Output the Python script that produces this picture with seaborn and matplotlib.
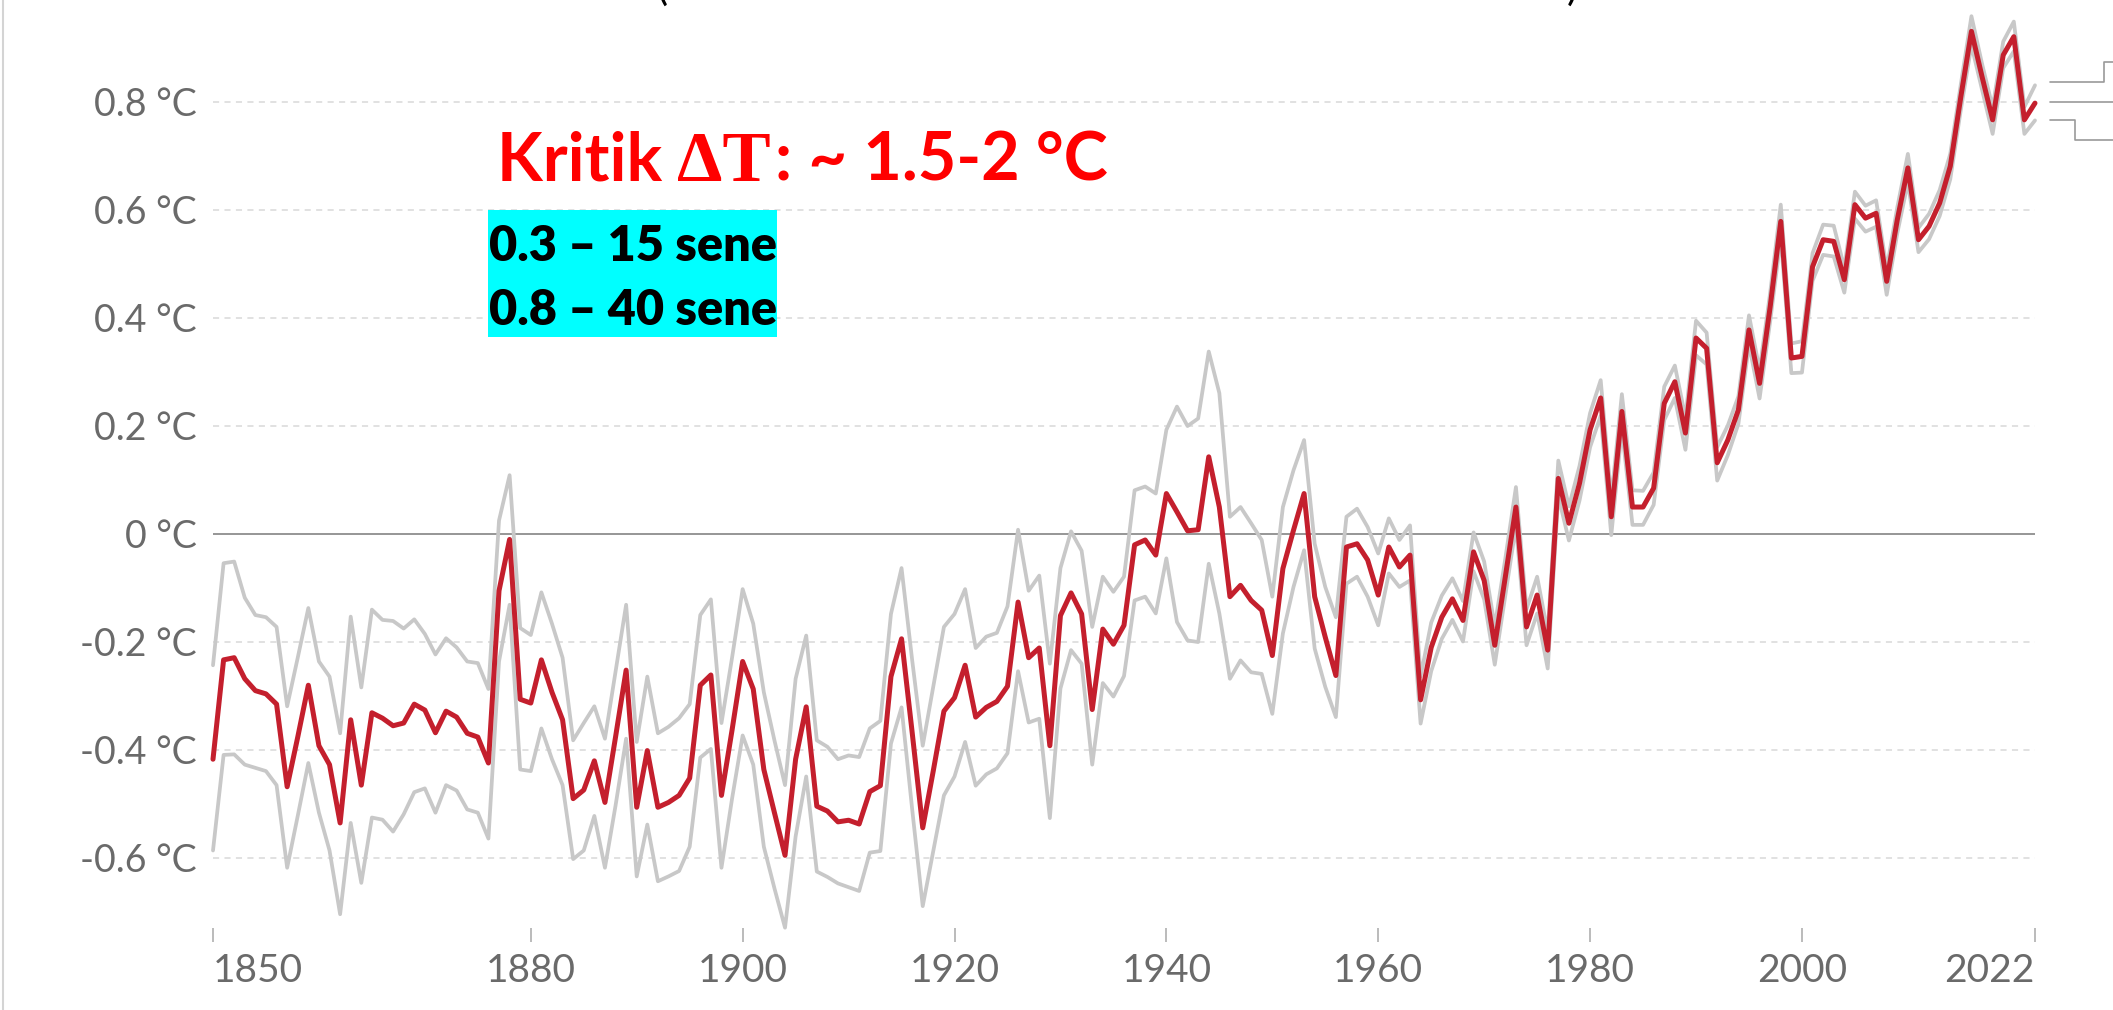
import numpy as np
import pandas as pd
import matplotlib
matplotlib.use("Agg")
import matplotlib.pyplot as plt
import seaborn as sns
from matplotlib.lines import Line2D
from matplotlib.patches import Rectangle

# ---------------- data ----------------
years = list(range(1850, 2023))

anomaly = [
    -0.418, -0.234, -0.230, -0.269, -0.291, -0.297, -0.316, -0.469, -0.377, -0.281,
    -0.393, -0.428, -0.536, -0.345, -0.466, -0.332, -0.342, -0.356, -0.351, -0.316,
    -0.327, -0.369, -0.329, -0.340, -0.370, -0.377, -0.425, -0.106, -0.011, -0.307,
    -0.314, -0.234, -0.294, -0.345, -0.491, -0.475, -0.421, -0.498, -0.377, -0.253,
    -0.507, -0.402, -0.507, -0.498, -0.485, -0.453, -0.281, -0.262, -0.485, -0.364,
    -0.237, -0.288, -0.437, -0.517, -0.596, -0.418, -0.321, -0.505, -0.514, -0.534,
    -0.531, -0.538, -0.478, -0.467, -0.265, -0.195, -0.368, -0.545, -0.439, -0.329,
    -0.304, -0.244, -0.340, -0.322, -0.311, -0.283, -0.127, -0.230, -0.212, -0.393,
    -0.152, -0.110, -0.149, -0.326, -0.177, -0.205, -0.170, -0.021, -0.012, -0.040,
    0.074, 0.040, 0.005, 0.007, 0.142, 0.049, -0.117, -0.096, -0.124, -0.142,
    -0.226, -0.065, 0.006, 0.074, -0.117, -0.192, -0.263, -0.025, -0.019, -0.049,
    -0.114, -0.025, -0.062, -0.040, -0.308, -0.211, -0.155, -0.121, -0.161, -0.034,
    -0.087, -0.207, -0.080, 0.049, -0.173, -0.114, -0.216, 0.102, 0.019, 0.093,
    0.192, 0.251, 0.031, 0.226, 0.049, 0.049, 0.084, 0.241, 0.281, 0.186,
    0.362, 0.343, 0.131, 0.173, 0.229, 0.377, 0.278, 0.420, 0.578, 0.325,
    0.328, 0.494, 0.544, 0.541, 0.470, 0.609, 0.584, 0.593, 0.467, 0.581,
    0.677, 0.544, 0.569, 0.612, 0.680, 0.809, 0.930, 0.846, 0.766, 0.886,
    0.920, 0.766, 0.797,
]

upper = [
    -0.244, -0.055, -0.052, -0.119, -0.151, -0.155, -0.173, -0.320, -0.230, -0.138,
    -0.237, -0.265, -0.370, -0.154, -0.285, -0.141, -0.160, -0.162, -0.176, -0.159,
    -0.186, -0.224, -0.194, -0.211, -0.237, -0.240, -0.288, 0.024, 0.108, -0.175,
    -0.188, -0.109, -0.167, -0.230, -0.383, -0.351, -0.320, -0.380, -0.256, -0.132,
    -0.386, -0.265, -0.370, -0.358, -0.342, -0.316, -0.151, -0.122, -0.351, -0.230,
    -0.103, -0.167, -0.294, -0.383, -0.466, -0.269, -0.189, -0.383, -0.395, -0.418,
    -0.411, -0.414, -0.361, -0.347, -0.149, -0.064, -0.234, -0.393, -0.283, -0.173,
    -0.149, -0.103, -0.212, -0.191, -0.184, -0.135, 0.007, -0.106, -0.078, -0.241,
    -0.064, 0.004, -0.032, -0.173, -0.080, -0.108, -0.080, 0.080, 0.087, 0.074,
    0.192, 0.235, 0.199, 0.213, 0.337, 0.260, 0.031, 0.049, 0.019, -0.012,
    -0.117, 0.049, 0.117, 0.173, -0.019, -0.099, -0.155, 0.031, 0.046, 0.012,
    -0.037, 0.028, -0.012, 0.015, -0.265, -0.165, -0.115, -0.083, -0.125, 0.002,
    -0.052, -0.172, -0.046, 0.086, -0.140, -0.080, -0.183, 0.135, 0.050, 0.125,
    0.223, 0.284, 0.064, 0.258, 0.080, 0.079, 0.113, 0.272, 0.311, 0.215,
    0.394, 0.372, 0.160, 0.200, 0.254, 0.404, 0.303, 0.446, 0.609, 0.352,
    0.356, 0.519, 0.572, 0.570, 0.492, 0.633, 0.607, 0.617, 0.490, 0.604,
    0.703, 0.566, 0.592, 0.636, 0.703, 0.832, 0.958, 0.870, 0.789, 0.911,
    0.948, 0.790, 0.830,
]

lower = [
    -0.587, -0.410, -0.409, -0.428, -0.434, -0.440, -0.466, -0.619, -0.523, -0.425,
    -0.517, -0.587, -0.705, -0.536, -0.647, -0.526, -0.530, -0.552, -0.520, -0.479,
    -0.472, -0.517, -0.466, -0.476, -0.511, -0.517, -0.565, -0.237, -0.132, -0.437,
    -0.440, -0.361, -0.418, -0.466, -0.603, -0.587, -0.523, -0.619, -0.504, -0.380,
    -0.635, -0.539, -0.644, -0.635, -0.625, -0.580, -0.415, -0.399, -0.619, -0.491,
    -0.374, -0.428, -0.580, -0.657, -0.730, -0.561, -0.450, -0.626, -0.636, -0.648,
    -0.655, -0.662, -0.591, -0.588, -0.389, -0.322, -0.510, -0.690, -0.588, -0.485,
    -0.450, -0.386, -0.467, -0.446, -0.435, -0.407, -0.255, -0.350, -0.343, -0.527,
    -0.287, -0.216, -0.241, -0.428, -0.277, -0.302, -0.264, -0.124, -0.117, -0.148,
    -0.046, -0.164, -0.198, -0.201, -0.056, -0.148, -0.269, -0.235, -0.257, -0.260,
    -0.334, -0.185, -0.099, -0.031, -0.213, -0.284, -0.340, -0.093, -0.080, -0.117,
    -0.170, -0.074, -0.099, -0.087, -0.352, -0.255, -0.195, -0.160, -0.200, -0.070,
    -0.122, -0.243, -0.115, 0.014, -0.207, -0.148, -0.250, 0.069, -0.013, 0.061,
    0.160, 0.218, -0.003, 0.194, 0.016, 0.016, 0.053, 0.210, 0.251, 0.155,
    0.330, 0.313, 0.098, 0.145, 0.203, 0.350, 0.250, 0.393, 0.548, 0.297,
    0.298, 0.468, 0.516, 0.513, 0.446, 0.583, 0.559, 0.568, 0.442, 0.556,
    0.650, 0.521, 0.545, 0.588, 0.656, 0.785, 0.904, 0.822, 0.740, 0.862,
    0.893, 0.740, 0.765,
]

x_ticks = [1850, 1880, 1900, 1920, 1940, 1960, 1980, 2000, 2022]
y_ticks = [-0.6, -0.4, -0.2, 0.0, 0.2, 0.4, 0.6, 0.8]
y_tick_labels = ["-0.6 °C", "-0.4 °C", "-0.2 °C", "0 °C", "0.2 °C", "0.4 °C", "0.6 °C", "0.8 °C"]

headline = ["Kritik ", "ΔT", ": ~ 1.5-2 °C"]
box_lines = ["0.3 – 15 sene", "0.8 – 40 sene"]

# ---------------- styling ----------------
sns.set_theme(style="white")
plt.rcParams["font.family"] = ["Lato", "DejaVu Sans"]

W, H = 2113, 1010
fig = plt.figure(figsize=(W / 100, H / 100), dpi=100)
fig.patch.set_facecolor("white")

# axes placed so that 1850 -> 213 px, 2022 -> 2035 px; 0 °C at 533.5 px, 540 px per 1 °C
ax_left, ax_right = 213, 2035
ax_bottom_px, ax_top_px = 928, 4.3
ax = fig.add_axes([ax_left / W, 1 - ax_bottom_px / H,
                   (ax_right - ax_left) / W, (ax_bottom_px - ax_top_px) / H])
ax.set_xlim(1850, 2022)
ax.set_ylim(-(ax_bottom_px - 533.5) / 540, (533.5 - ax_top_px) / 540)

df = pd.DataFrame({"year": years, "anomaly": anomaly, "upper": upper, "lower": lower})

# grid
for v in y_ticks:
    if v == 0:
        ax.axhline(v, color="#8e8e8e", lw=1.3, zorder=1)
    else:
        ax.axhline(v, color="#d9d9d9", lw=1.1, ls=(0, (4, 3.5)), zorder=1)

sns.lineplot(data=df, x="year", y="upper", ax=ax, color="#c8c8c8", lw=2.7, zorder=2, clip_on=False)
sns.lineplot(data=df, x="year", y="lower", ax=ax, color="#c8c8c8", lw=2.7, zorder=2, clip_on=False)
sns.lineplot(data=df, x="year", y="anomaly", ax=ax, color="#c41f2d", lw=3.6, zorder=3, clip_on=False)

for s in ax.spines.values():
    s.set_visible(False)
ax.set_xlabel("")
ax.set_ylabel("")

ax.set_xticks(x_ticks)
ax.set_xticklabels([str(t) for t in x_ticks])
ax.set_yticks(y_ticks)
ax.set_yticklabels(y_tick_labels)
ax.tick_params(axis="x", length=10, width=1.1, color="#a8a8a8", direction="out",
               pad=8, labelsize=28, labelcolor="#6a6a6a", bottom=True)
ax.tick_params(axis="y", length=0, pad=11.5, labelsize=27, labelcolor="#6a6a6a", left=True)
xl = ax.get_xticklabels()
xl[0].set_ha("left")
xl[-1].set_ha("right")

# end-label connector lines (labels themselves are off the visible canvas)
lead_x = [2023.4, 2025.8, 2028.5, 2030.0]
ends = [upper[-1], anomaly[-1], lower[-1]]
ax.add_line(Line2D([lead_x[0], lead_x[2], lead_x[2], lead_x[3]],
                   [ends[0] + 0.007, ends[0] + 0.007, ends[0] + 0.044, ends[0] + 0.044],
                   color="#9a9a9a", lw=1.2, clip_on=False))
ax.add_line(Line2D([lead_x[0], lead_x[3]], [ends[1] + 0.003, ends[1] + 0.003],
                   color="#9a9a9a", lw=1.2, clip_on=False))
ax.add_line(Line2D([lead_x[0], lead_x[1], lead_x[1], lead_x[3]],
                   [ends[2] + 0.001, ends[2] + 0.001, ends[2] - 0.036, ends[2] - 0.036],
                   color="#9a9a9a", lw=1.2, clip_on=False))

# left border of the screenshot
fig.add_artist(Line2D([3 / W, 3 / W], [0, 1], color="#d4d4d4", lw=1.5))

# cut-off title parentheses at the very top (the reference shows only their lower ends)
fig.text(656 / W, 1.0, "(", fontsize=30, color="black", va="baseline", ha="left")
fig.text(1567 / W, 1.0, ")", fontsize=30, color="black", va="baseline", ha="left")

# headline in red
red = "#ff0000"
fig.text(497 / W, 1 - 180.7 / H, headline[0], fontsize=48, fontweight="bold", color=red,
         va="baseline", ha="left", family=["Lato", "DejaVu Sans"])
fig.text(677 / W, 1 - 180.7 / H, headline[1], fontsize=52, fontweight="bold", color=red,
         va="baseline", ha="left", family=["Liberation Serif", "DejaVu Serif"])
fig.text(775 / W, 1 - 180.7 / H, headline[2], fontsize=48, fontweight="bold", color=red,
         va="baseline", ha="left", family=["Lato", "DejaVu Sans"])

# cyan box
fig.add_artist(Rectangle((488 / W, 1 - 337 / H), (777 - 488) / W, (337 - 210) / H,
                         transform=fig.transFigure, facecolor="#00ffff", edgecolor="none", zorder=5))
fig.text(489 / W, 1 - 261 / H, box_lines[0], fontsize=35, fontweight="heavy", color="black",
         va="baseline", ha="left", zorder=6)
fig.text(489 / W, 1 - 325 / H, box_lines[1], fontsize=35, fontweight="heavy", color="black",
         va="baseline", ha="left", zorder=6)

fig.savefig("out.png", dpi=100, facecolor="white")
